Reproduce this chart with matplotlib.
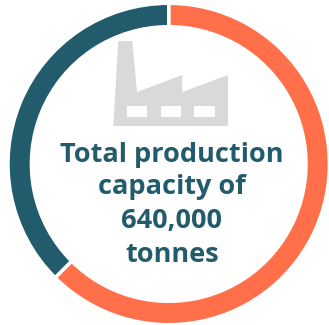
import matplotlib.pyplot as plt
from matplotlib.patches import Polygon, Rectangle

# Capacity split around the ring
shares = [62.5, 37.5]
ring_colors = ["#FF704A", "#225B6B"]
label_lines = ["Total production", "capacity of", "640,000", "tonnes"]

H = 325

fig = plt.figure(figsize=(3.29, 3.25), dpi=100)
ax = fig.add_axes([0, 0, 1, 1])

ax.pie(
    shares,
    colors=ring_colors,
    startangle=90,
    counterclock=False,
    center=(168.7, H - 164),
    radius=160.7,
    wedgeprops=dict(width=23.4, edgecolor="white", linewidth=2.5),
)
ax.set_xlim(0, 329)
ax.set_ylim(0, H)
ax.set_aspect("equal")
ax.axis("off")

# Factory icon
factory = [(118.3, 41), (132.3, 41), (137, 92), (182.3, 75), (182.3, 92),
           (228, 75), (228, 126), (113.3, 126)]
ax.add_patch(Polygon([(x, H - y) for x, y in factory], closed=True,
                     facecolor="#D9D9D9", edgecolor="none"))
for x0 in [127, 161, 194.3]:
    ax.add_patch(Rectangle((x0, H - 117.3), 20.3, 11.3, facecolor="white", edgecolor="none"))

for y, line in zip([161.7, 194.5, 228, 262], label_lines):
    ax.text(172, H - y, line, ha="center", va="baseline", color="#225B6B",
            fontsize=19.5, fontweight="bold", family="Open Sans")

fig.savefig("out.png", dpi=100)
